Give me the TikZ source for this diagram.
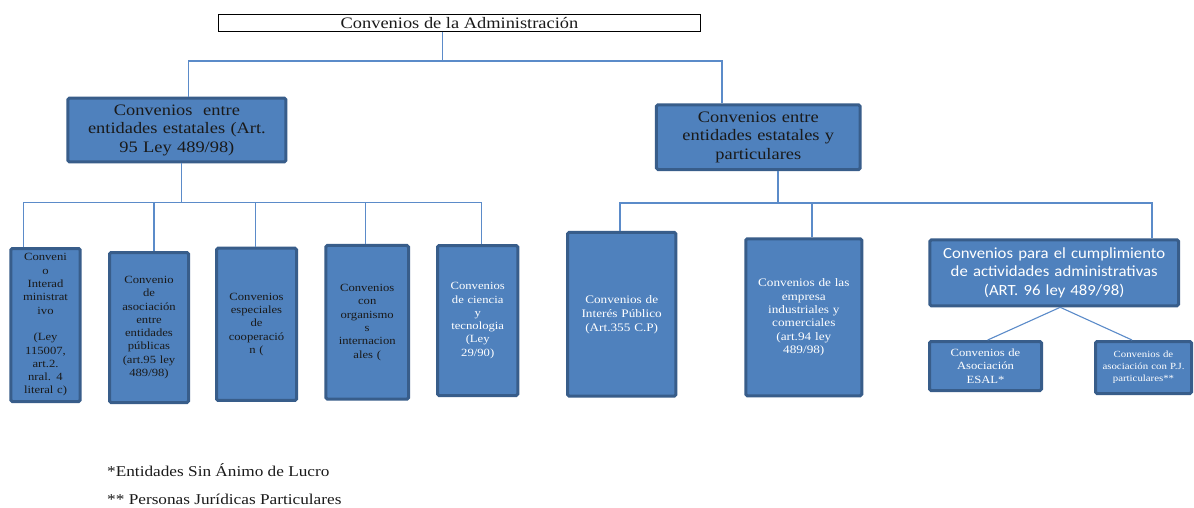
\documentclass[tikz,border=0pt]{standalone}
\usepackage{fontspec}
\setmainfont{Liberation Serif}[FakeStretch=1.15]
\newfontfamily\calfont{Carlito}[FakeStretch=1.08]
\usepackage{tikz}
\usetikzlibrary{positioning}
\usetikzlibrary{arrows.meta}
\definecolor{boxfill}{HTML}{4F81BD}
\definecolor{boxline}{HTML}{385D8A}
\definecolor{linkblue}{HTML}{5B8BC9}
\definecolor{inkdark}{HTML}{1A1A1A}

\begin{document}
\begin{tikzpicture}[x=1pt,y=-1pt,
    link/.style={draw=linkblue,line width=1.1pt},
    bigfont/.style={font=\fontsize{16}{18.5}\selectfont},
    smallfont/.style={font=\fontsize{11}{13.3}\selectfont}]
\useasboundingbox[fill=white] (0,0) rectangle (1194,508);

\node[draw=black,fill=white,line width=0.9pt,minimum width=482pt,minimum height=17pt,
      inner sep=0pt,text=inkdark,font=\fontsize{16}{18}\selectfont] (tit) at (459.5,22.8)
      {Convenios de la Administración};

\begin{scope}[every node/.style={draw=boxline,line width=3pt,fill=boxfill,rounded corners=1.5pt,
              align=center,inner sep=1pt}]
    \node[bigfont,text=inkdark,minimum width=218pt,minimum height=63.6pt,text width=214pt] (est) at (176.9,130)
        {Convenios~ entre\\entidades estatales (Art.\\95 Ley 489/98)};
    \node[bigfont,text=inkdark,minimum width=203.7pt,minimum height=64.7pt,text width=200pt] (par) at (758.3,137.2)
        {Convenios entre\\entidades estatales y\\particulares};

    \node[smallfont,text=inkdark,minimum width=69.4pt,minimum height=153pt,text width=66pt] (c1) at (45.5,325)
        {Conveni\\o\\Interad\\ministrat\\ivo\\[13.3pt](Ley\\115007,\\art.2.\\nral. 4\\literal c)};
    \node[smallfont,text=inkdark,minimum width=79pt,minimum height=150pt,text width=76pt] (c2) at (149,327.5)
        {Convenio\\de\\asociación\\entre\\entidades\\públicas\\(art.95 ley\\489/98)};
    \node[smallfont,text=inkdark,minimum width=80pt,minimum height=152.3pt,text width=77pt] (c3) at (256.5,324.3)
        {Convenios\\especiales\\de\\cooperació\\n (};
    \node[smallfont,text=inkdark,minimum width=82.7pt,minimum height=153.7pt,text width=79pt] (c4) at (367.2,322.3)
        {Convenios\\con\\organismo\\s\\internacion\\ales (};
    \node[smallfont,text=white,minimum width=80.3pt,minimum height=150pt,text width=77pt] (c5) at (477.7,320.5)
        {Convenios\\de ciencia\\y\\tecnologia\\(Ley\\29/90)};
    \node[font=\fontsize{11.5}{14}\selectfont,text=white,minimum width=108.3pt,minimum height=163.7pt,text width=105pt] (c6) at (621.7,314.3)
        {Convenios de\\Interés Público\\(Art.355 C.P)};
    \node[font=\fontsize{11.5}{13.3}\selectfont,text=white,minimum width=116pt,minimum height=157pt,text width=113pt] (c7) at (803.8,317.3)
        {Convenios de las\\empresa\\industriales y\\comerciales\\(art.94 ley\\489/98)};
    \node[font=\calfont\fontsize{15.5}{18.5}\selectfont,text=white,minimum width=248.7pt,minimum height=66pt,text width=245pt] (c8) at (1054.2,272.8)
        {Convenios para el cumplimiento\\de actividades administrativas\\(ART. 96 ley 489/98)};
    \node[smallfont,text=white,minimum width=112pt,minimum height=49pt,text width=108pt] (c9) at (985.5,366)
        {Convenios de\\Asociación\\ESAL*};
    \node[font=\fontsize{9.4}{12}\selectfont,text=white,minimum width=96pt,minimum height=52pt,text width=93pt] (c10) at (1143.5,367.5)
        {Convenios de\\asociación con P.J.\\particulares**};
\end{scope}

% connectors
\coordinate (b0) at (0,61);
\coordinate (b1) at (0,202.3);
\coordinate (b2) at (0,203);
\draw[link] ([xshift=-17pt]tit.south) -- ([xshift=-17pt]tit.south |- b0);
\draw[link] ([xshift=11.6pt]est.north) |- ([xshift=-36.3pt]par.north |- b0) -- ([xshift=-36.3pt]par.north);

\draw[link] ([xshift=5pt]est.south) -- ([xshift=5pt]est.south |- b1);
\draw[link] ([xshift=-21.7pt]c1.north) |- ([xshift=3.5pt]c5.north |- b1) -- ([xshift=3.5pt]c5.north);
\foreach \n/\s in {c2/5,c3/-1,c4/-1.7}
    \draw[link] ([xshift=\s pt]\n.north) -- ([xshift=\s pt]\n.north |- b1);

\draw[link] ([xshift=19.7pt]par.south) -- ([xshift=19.7pt]par.south |- b2);
\draw[link] ([xshift=-1.7pt]c6.north) |- ([xshift=97.8pt]c8.north |- b2) -- ([xshift=97.8pt]c8.north);
\draw[link] ([xshift=8.2pt]c7.north) -- ([xshift=8.2pt]c7.north |- b2);

\draw[link] ([xshift=6pt]c8.south) -- ([xshift=2.2pt]c9.north);
\draw[link] ([xshift=6pt]c8.south) -- ([xshift=-11.5pt]c10.north);

% notes
\node[anchor=west,inner sep=0pt,text=inkdark,font=\fontsize{15}{17}\selectfont] (n1) at (107,470)
    {*Entidades Sin Ánimo de Lucro};
\node[anchor=west,inner sep=0pt,text=inkdark,font=\fontsize{15}{17}\selectfont] (n2) at (107,499)
    {** Personas Jurídicas Particulares};
\end{tikzpicture}
\end{document}
